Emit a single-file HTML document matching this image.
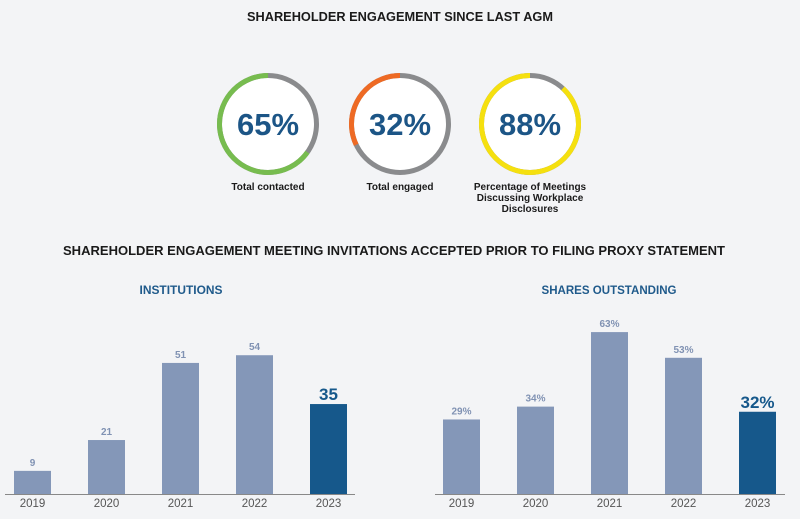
<!DOCTYPE html>
<html><head><meta charset="utf-8">
<style>
body{margin:0;background:#f3f4f6;font-family:"Liberation Sans",sans-serif;}
svg{display:block}
</style></head>
<body>
<svg id="c" width="800" height="519" viewBox="0 0 800 519" xmlns="http://www.w3.org/2000/svg">
<rect width="800" height="519" fill="#f3f4f6"/>
<text x="400" y="21" text-anchor="middle" font-size="12.5" font-weight="bold" fill="#1a1a1a" textLength="306" lengthAdjust="spacingAndGlyphs">SHAREHOLDER ENGAGEMENT SINCE LAST AGM</text>
<text x="394" y="255" text-anchor="middle" font-size="13" font-weight="bold" fill="#1a1a1a" textLength="662" lengthAdjust="spacingAndGlyphs">SHAREHOLDER ENGAGEMENT MEETING INVITATIONS ACCEPTED PRIOR TO FILING PROXY STATEMENT</text>
<text x="181" y="294" text-anchor="middle" font-size="11.5" font-weight="bold" fill="#1f5a8b" textLength="83" lengthAdjust="spacingAndGlyphs">INSTITUTIONS</text>
<text x="609" y="294" text-anchor="middle" font-size="11.5" font-weight="bold" fill="#1f5a8b" textLength="135" lengthAdjust="spacingAndGlyphs">SHARES OUTSTANDING</text>
<g id="donuts"></g>
<g id="left"></g>
<g id="right"></g>
</svg>
<script>
const donutValues=[65,32,88];
const donutLabels=[["Total contacted"],["Total engaged"],["Percentage of Meetings","Discussing Workplace","Disclosures"]];
const donutColors=["#77bc4f","#ee6a24","#f5e00f"];
const categories=["2019","2020","2021","2022","2023"];
const institutions=[9,21,51,54,35];
const sharesOutstanding=[29,34,63,53,32];

const NS="http://www.w3.org/2000/svg";
function mk(tag,attrs,parent){const e=document.createElementNS(NS,tag);for(const k in attrs)e.setAttribute(k,attrs[k]);parent.appendChild(e);return e;}

// donuts
const dg=document.getElementById('donuts');
const cxs=[268,400,530], cy=124, r=48.5;
donutValues.forEach((v,i)=>{
  const cx=cxs[i];
  const g=mk('g',{},dg);
  
  
  const bg=mk('circle',{cx:cx,cy:cy,r:r,fill:'#ffffff',stroke:'#8a8b8d','stroke-width':5},g);
  
  
  const C=2*Math.PI*r;
  const arc=mk('circle',{cx:cx,cy:cy,r:r,fill:'none',stroke:donutColors[i],'stroke-width':5,
    'stroke-dasharray':(C*v/100)+' '+C,transform:`translate(${cx},${cy}) scale(-1,1) rotate(-90) translate(${-cx},${-cy})`},g);
  
  
  const t=mk('text',{x:cx,y:cy+11,'text-anchor':'middle','font-size':31,'font-weight':'bold',fill:'#1c5586'},g);
  t.textContent=v+'%';
  
  
  donutLabels[i].forEach((ln,j)=>{
    const l=mk('text',{x:cx,y:190+j*11,'text-anchor':'middle','font-size':10,'font-weight':'bold',fill:'#1a1a1a'},g);
    l.textContent=ln;
    
    
  });
});

function barChart(gid,data,x0,axisStart,axisEnd,suffix){
  const g=document.getElementById(gid);
  const base=494, pxPerUnit=2.57, step=74, bw=37;
  const y=v=>base-v*pxPerUnit;
  data.forEach((v,i)=>{
    const x=x0+i*step;
    const last=i===data.length-1;
    const b=mk('rect',{x:x,y:y(v),width:bw,height:base-y(v),fill:last?'#16588b':'#8497b8'},g);
    
    
    const t=mk('text',{x:x+bw/2,y:y(v)-(last?4:5),'text-anchor':'middle','font-size':last?17:10,'font-weight':'bold',fill:last?'#16588b':'#8092b3'},g);
    t.textContent=v+suffix;
    
    
    const c=mk('text',{x:x+bw/2,y:507,'text-anchor':'middle','font-size':11.5,fill:'#555'},g);
    c.textContent=categories[i];
    
    
  });
  const ax=mk('line',{x1:axisStart,x2:axisEnd,y1:base+0.5,y2:base+0.5,stroke:'#888','stroke-width':1},g);
  
  
}
barChart('left',institutions,14,5,355,'');
barChart('right',sharesOutstanding,443,435,785,'%');
</script>
</body></html>
